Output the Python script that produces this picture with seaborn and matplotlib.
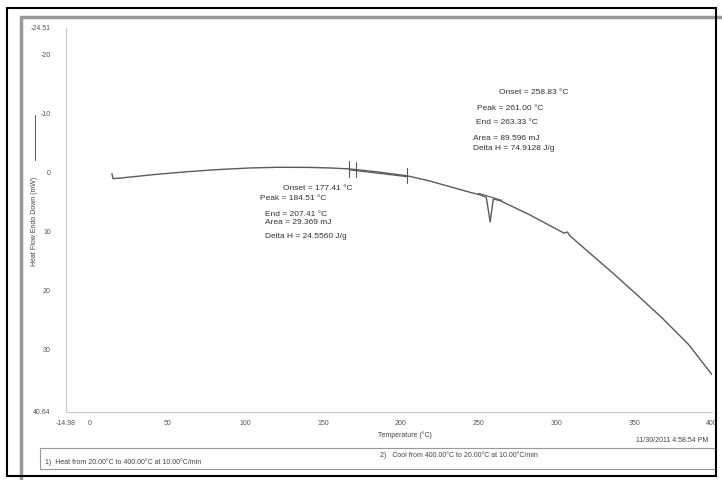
import matplotlib.pyplot as plt
import matplotlib.patches as mpatches
from matplotlib.lines import Line2D
import numpy as np
import pandas as pd
import seaborn as sns

# DSC trace (temperature in C, heat flow in mW, endo down)
temperature = [14.5, 15.2, 20, 43, 64, 82, 103, 121, 141, 155, 167, 185,
               204, 218, 231.5, 245, 251, 255, 257.5, 259.5, 264, 283, 305,
               307, 309, 322, 336, 352, 368, 385, 400]
heat_flow = [0.2, 1.05, 0.95, 0.32, -0.15, -0.48, -0.76, -0.88, -0.86, -0.76,
             -0.6, -0.1, 0.56, 1.4, 2.4, 3.4, 3.8, 4.2, 8.4, 4.5, 4.8, 7.2,
             10.3, 10.1, 10.8, 13.8, 17.0, 20.8, 24.7, 29.2, 34.3]

x_ticks = [-14.98, 0, 50, 100, 150, 200, 250, 300, 350, 400]
x_tick_labels = ['-14.98', '0', '50', '100', '150', '200', '250', '300', '350', '400']
y_ticks = [-24.51, -20, -10, 0, 10, 20, 30, 40.64]
y_tick_labels = ['-24.51', '-20', '-10', '0', '10', '20', '30', '40.64']

peak1_limits = [167, 171, 204]
peak2_limits = [250, 265]

peak1_text = ['Onset = 177.41 °C', 'Peak = 184.51 °C', 'End = 207.41 °C',
              'Area = 29.369 mJ', 'Delta H = 24.5560 J/g']
peak2_text = ['Onset = 258.83 °C', 'Peak = 261.00 °C', 'End = 263.33 °C',
              'Area = 89.596 mJ', 'Delta H = 74.9128 J/g']

sns.set_style('white')
plt.rcParams['font.family'] = ['Liberation Sans', 'DejaVu Sans']

W, H = 722, 480
fig = plt.figure(figsize=(W / 100, H / 100), dpi=100)


def fx(px):
    return px / W


def fy(py):
    return 1 - py / H


ax = fig.add_axes([fx(66), fy(412), (712 - 66) / W, (412 - 28) / H])
df = pd.DataFrame({'T': temperature, 'HF': heat_flow})
sns.lineplot(data=df, x='T', y='HF', ax=ax, color='#5a5a5a', lw=1.0, sort=False)

# integration limit marks and baselines
for t in peak1_limits:
    v = np.interp(t, temperature, heat_flow)
    ax.plot([t, t], [v - 1.3, v + 1.3], color='#5a5a5a', lw=0.8)
b1 = np.interp(peak1_limits[::2], temperature, heat_flow)
ax.plot(peak1_limits[::2], b1 + 0.15, color='#5a5a5a', lw=0.9)
b2 = np.interp(peak2_limits, temperature, heat_flow)
ax.plot(peak2_limits, b2 - 0.2, color='#5a5a5a', lw=0.8)

ax.set_xlim(-14.98, 400)
ax.set_ylim(40.64, -24.51)
ax.set_xticks(x_ticks)
ax.set_xticklabels(x_tick_labels)
ax.set_yticks(y_ticks)
ax.set_yticklabels(y_tick_labels)
ax.tick_params(labelsize=5, colors='#555555', length=3, width=0.5, pad=3)
ax.tick_params(axis='y', pad=8)
ax.set_xlabel('')
ax.set_ylabel('')
for s in ['top', 'right']:
    ax.spines[s].set_visible(False)
for s in ['left', 'bottom']:
    ax.spines[s].set_color('#c8c8c8')
    ax.spines[s].set_linewidth(0.8)

# labels
fig.text(fx(405), fy(435), 'Temperature (°C)', fontsize=5, color='#444444',
         ha='center', va='center')
fig.text(fx(35), fy(221), 'Heat Flow Endo Down (mW)', fontsize=5,
         color='#444444', rotation=90, ha='center', va='center')
fig.add_artist(Line2D([fx(35), fx(35)], [fy(160), fy(115)], color='#555555', lw=0.7))

# peak annotations
p1_pos = [(283, 188), (260, 198), (265, 214), (265, 223), (265, 237)]
p2_pos = [(499, 93), (477, 108), (476, 123), (473, 139), (473, 149)]
for txt, (px, py) in zip(peak1_text, p1_pos):
    fig.text(fx(px), fy(py), txt, fontsize=6, color='#333333', va='center')
for txt, (px, py) in zip(peak2_text, p2_pos):
    fig.text(fx(px), fy(py), txt, fontsize=6, color='#333333', va='center')

fig.text(fx(708), fy(440), '11/30/2011 4:58:54 PM', fontsize=5,
         color='#444444', ha='right', va='center')

# method box
fig.add_artist(mpatches.Rectangle((fx(40), fy(469)), fx(715 - 40), (469 - 448) / H,
                                  fill=False, ec='#999999', lw=0.8))
fig.text(fx(45), fy(462), '1)  Heat from 20.00°C to 400.00°C at 10.00°C/min',
         fontsize=5, color='#444444', va='center')
fig.text(fx(380), fy(455), '2)   Cool from 400.00°C to 20.00°C at 10.00°C/min',
         fontsize=5, color='#444444', va='center')

# scan frames
fig.add_artist(mpatches.Rectangle((fx(21), -0.05), fx(760 - 21), fy(17) + 0.05,
                                  fill=False, ec='#999999', lw=2.5))
fig.add_artist(mpatches.Rectangle((fx(7), fy(476)), fx(716 - 7), (476 - 8) / H,
                                  fill=False, ec='black', lw=1.5))

fig.savefig('out.png', dpi=100)
